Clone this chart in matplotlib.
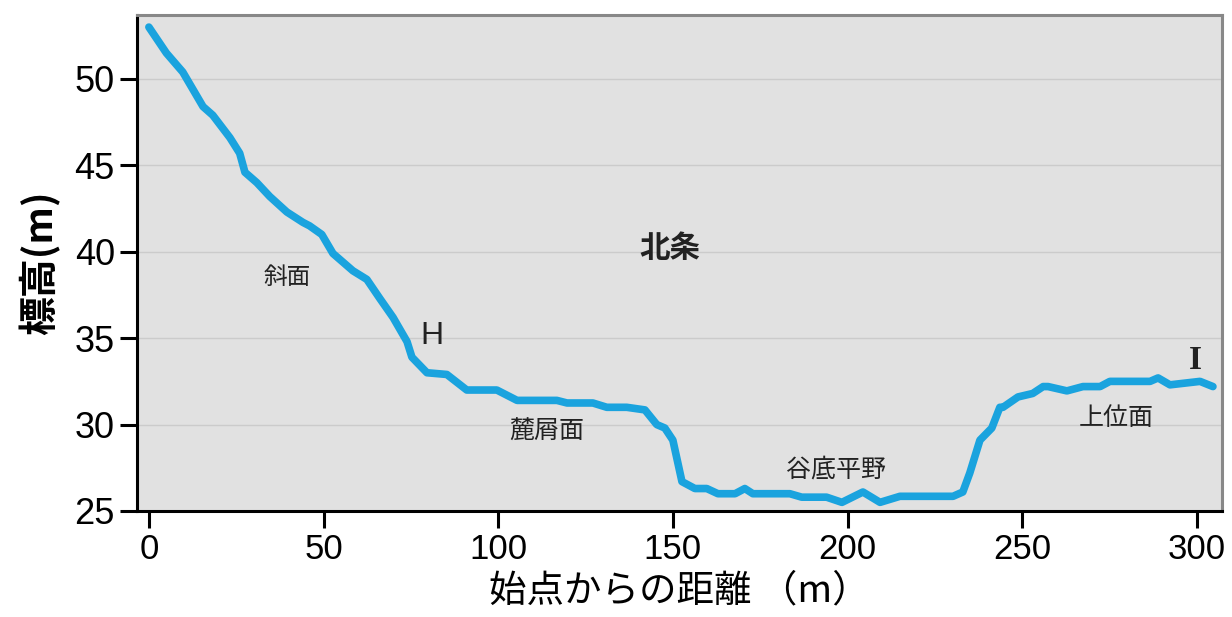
import matplotlib.pyplot as plt
import numpy as np

plt.rcParams['font.family'] = ['Noto Sans CJK JP', 'DejaVu Sans']

# 始点からの距離 (m) と 標高 (m)
dist = [0, 5, 9.7, 15.5, 18.3, 23.2, 26, 27.5, 30.9, 34.6, 39.5, 44.1, 46, 49.5,
        52.7, 58.4, 62.4, 66.1, 69.9, 73.9, 75.3, 79.6, 85.3, 91, 99.6, 105.4,
        116.8, 119.7, 127.1, 131.1, 136.8, 142, 145.4, 147.7, 150, 152.6, 156.3,
        159.7, 162.9, 167.8, 170.6, 172.9, 183.5, 186.9, 194, 198.4, 204.4,
        209.3, 215, 230.2, 233, 235, 237.9, 241.3, 243.6, 244.5, 248.8, 253,
        256, 257.4, 262.8, 267.4, 272.3, 275.1, 286.6, 288.9, 292.3, 300.9, 304.6]
elev = [53.0, 51.5, 50.4, 48.4, 47.9, 46.6, 45.7, 44.6, 44.0, 43.2, 42.3, 41.7, 41.5, 41.0,
        39.9, 38.9, 38.4, 37.3, 36.2, 34.8, 33.9, 33.0, 32.9, 32.0, 32.0, 31.4,
        31.4, 31.25, 31.25, 31.0, 31.0, 30.85, 30.0, 29.8, 29.1, 26.7, 26.3,
        26.3, 26.0, 26.0, 26.3, 26.0, 26.0, 25.8, 25.8, 25.5, 26.1,
        25.5, 25.85, 25.85, 26.1, 27.2, 29.1, 29.8, 31.0, 31.0, 31.6, 31.8,
        32.2, 32.2, 31.95, 32.2, 32.2, 32.5, 32.5, 32.7, 32.3, 32.5, 32.2]

# 地形区分ラベル
labels = ['斜面', '麓屑面', '谷底平野', '上位面']
label_x = [39.5, 114, 196.7, 277]
label_y = [38.5, 29.6, 27.4, 30.4]
label_size = [17, 18, 18, 18]

xticks = [0, 50, 100, 150, 200, 250, 300]
yticks = [25, 30, 35, 40, 45, 50]

fig = plt.figure(figsize=(12.32, 6.17), dpi=100)
ax = fig.add_axes([0.1112, 0.1718, 0.8807, 0.8039])
ax.set_facecolor('#e1e1e1')

for y in yticks[1:]:
    ax.axhline(y, color='#cbcbcb', lw=1.0, zorder=1)

ax.plot(dist, elev, color='#1aa3de', lw=5.5, solid_capstyle='round',
        solid_joinstyle='round', zorder=3)

for t, x, y, s in zip(labels, label_x, label_y, label_size):
    ax.text(x, y, t, fontsize=s, ha='center', va='center', color='#222222')
ax.text(149.2, 40.2, '北条', fontsize=22, fontweight='bold', ha='center', va='center',
        color='#222222')
ax.text(81, 35.1, 'H', fontsize=23, ha='center', va='center', color='#222222',
        family=['Liberation Sans', 'DejaVu Sans'])
ax.text(299.5, 33.7, 'I', fontsize=24, fontweight='bold', ha='center', va='center',
        color='#222222', family=['Liberation Serif', 'DejaVu Serif'])

ax.set_xlim(-3.4, 307.2)
ax.set_ylim(25, 53.7)
ax.set_xticks(xticks)
ax.set_yticks(yticks)
ax.set_xticklabels([str(v) for v in xticks], fontsize=25,
                   family=['Liberation Sans Narrow', 'Liberation Sans', 'DejaVu Sans'])
ax.set_yticklabels([str(v) for v in yticks], fontsize=26,
                   family=['Liberation Sans', 'DejaVu Sans'])
ax.tick_params(axis='both', length=12, width=2.2, color='black', pad=4)

for s in ['left', 'bottom']:
    ax.spines[s].set_color('black')
    ax.spines[s].set_linewidth(2.2)
for s in ['top', 'right']:
    ax.spines[s].set_color('#888888')
    ax.spines[s].set_linewidth(2.2)

ax.set_ylabel('標高(m)', fontsize=28, fontweight='bold', labelpad=10)
ax.set_xlabel('始点からの距離 （m）', fontsize=27, labelpad=4)

fig.savefig('out.png', dpi=100)
